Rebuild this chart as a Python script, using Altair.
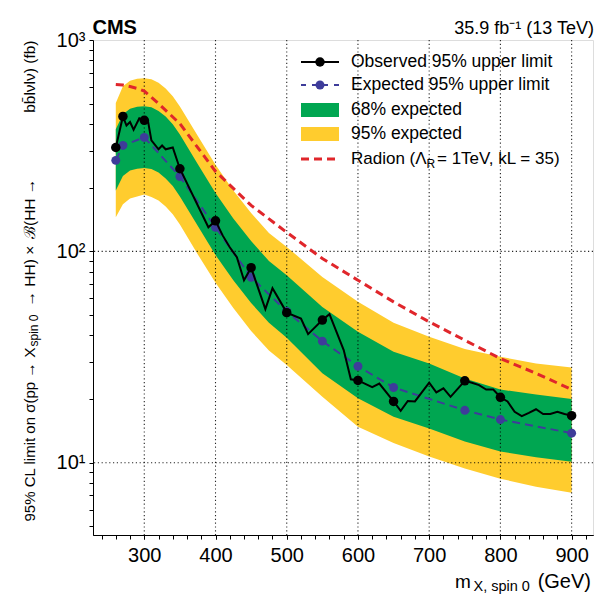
import altair as alt
import pandas as pd

# ---------------- data ----------------
obs_mass = [260, 270, 275, 280, 285, 293, 300, 305, 310, 320, 325, 330, 340, 350,
            390, 400, 410, 420, 430, 440, 450, 470, 480, 500, 520, 530, 550, 560,
            580, 590, 600, 620, 630, 650, 660, 670, 680, 700, 710, 720, 730, 750,
            760, 770, 780, 790, 800, 810, 820, 830, 840, 850, 860, 870, 880, 890, 900]
obs_val = [310, 435, 394, 409, 376, 426, 417, 417, 335, 304, 317, 304, 310, 246,
           130, 139.5, 119, 104.6, 93.8, 73.0, 83.7, 53.3, 66.9, 51.3, 48.1, 40.6, 47.3, 50.4,
           34.1, 24.8, 24.5, 22.8, 23.7, 19.5, 17.6, 19.6, 19.5, 23.9, 21.5, 22.5, 20.5, 24.4,
           23.9, 23.3, 22.2, 22.2, 20.4, 19.5, 17.4, 16.6, 17.2, 17.9, 17.0, 17.0, 17.4, 17.0, 16.7]

point_mass = [260, 270, 300, 350, 400, 450, 500, 550, 600, 650, 750, 800, 900]
exp_val = [269.5, 317, 346, 226, 130, 75.4, 52, 37.6, 28.6, 22.7, 17.7, 16.0, 13.8]

band_mass = [260, 270, 280, 290, 300, 310, 320, 330, 340, 350, 375, 400, 425, 450,
             475, 500, 550, 600, 650, 700, 750, 800, 850, 900]
g_hi = [378, 445, 473, 483, 486, 480, 462, 434, 399, 357, 259, 189, 143, 112,
        90, 77, 54.6, 41.6, 33.5, 29.5, 25.0, 22.2, 21.0, 20.0]
g_lo = [194, 227, 241, 246, 248, 245, 236, 221, 204, 182, 132, 96, 73, 57,
        46, 39, 26.5, 20.2, 16.5, 14.5, 12.6, 11.3, 10.6, 10.1]
y_hi = [503, 604, 642, 656, 659, 652, 627, 589, 542, 485, 352, 257, 194, 152,
        122, 105, 75.7, 57.7, 46.0, 39.4, 34.5, 31.7, 29.5, 28.2]
y_lo = [145, 167, 178, 182, 186, 181, 174, 163, 150, 134, 97, 71, 54, 42,
        34, 29, 20.5, 14.8, 12.4, 10.7, 9.4, 8.4, 7.7, 7.2]

rad_mass = [260, 270, 280, 290, 300, 320, 350, 400, 450, 500, 550, 600, 650, 700, 750, 800, 850, 900]
rad_val = [616, 612, 602, 590, 573, 500, 402, 239, 165, 123, 92.5, 73, 57.7, 46.4, 38.0, 31.1, 26.5, 22.2]

x_major = [300, 400, 500, 600, 700, 800, 900]
y_grid = [10, 100]
x_minor = list(range(240, 921, 20))
y_ticks = [5, 6, 7, 8, 9, 10, 20, 30, 40, 50, 60, 70, 80, 90, 100,
           200, 300, 400, 500, 600, 700, 800, 900, 1000]

# ---------------- styling ----------------
W, H = 500, 495
FONT = "Liberation Sans"
GREEN = "#00A651"
YELLOW = "#FFCC2E"
RED = "#E0262B"
BLUE = "#3E3C9A"

obs_df = pd.DataFrame({"m": obs_mass, "v": obs_val})
dot_df = obs_df[obs_df["m"].isin(point_mass)]
exp_df = pd.DataFrame({"m": point_mass, "v": exp_val})
band_df = pd.DataFrame({"m": band_mass, "ghi": g_hi, "glo": g_lo, "yhi": y_hi, "ylo": y_lo})
rad_df = pd.DataFrame({"m": rad_mass, "v": rad_val})

xscale = alt.Scale(domain=[228, 930], nice=False, zero=False)
yscale = alt.Scale(type="log", domain=[4.55, 1000], nice=False)

common = dict(grid=False, title=None, tickColor="black", domainColor="black", tickSize=4)
xaxis_major = alt.Axis(values=x_major, orient="bottom", labelFontSize=20, labelFont=FONT,
                       labelColor="black", labelPadding=6, labelFlush=False,
                       labelOverlap=False, **common)
xaxis_minor = alt.Axis(values=x_minor, orient="bottom", labels=False, **common)
yaxis = alt.Axis(values=y_ticks,
                 labelExpr="datum.value == 10 ? '10¹' : datum.value == 100 ? '10²' : datum.value == 1000 ? '10³' : ''",
                 labelFontSize=20, labelFont=FONT, labelColor="black", labelPadding=4,
                 labelFlush=False, labelOverlap=False, **common)

Xn = alt.X("m:Q", axis=None)

yellow = alt.Chart(band_df).mark_area(color=YELLOW, opacity=1).encode(
    x=alt.X("m:Q", scale=xscale, axis=xaxis_major),
    y=alt.Y("ylo:Q", scale=yscale, axis=yaxis), y2="yhi:Q")
green = alt.Chart(band_df).mark_area(color=GREEN, opacity=1).encode(
    x=Xn, y="glo:Q", y2="ghi:Q")

gx = alt.Chart(pd.DataFrame({"m": x_major})).mark_rule(
    color="black", strokeDash=[1.2, 2.6], strokeWidth=1.1, opacity=0.85).encode(
    x=alt.X("m:Q", axis=xaxis_minor))
gy = alt.Chart(pd.DataFrame({"v": y_grid})).mark_rule(
    color="black", strokeDash=[1.2, 2.6], strokeWidth=1.1, opacity=0.85).encode(y="v:Q")

rad = alt.Chart(rad_df).mark_line(color=RED, strokeWidth=3, strokeDash=[8, 5]).encode(
    x=Xn, y="v:Q")
exp_line = alt.Chart(exp_df).mark_line(color=BLUE, strokeWidth=2, strokeDash=[8, 5]).encode(
    x=Xn, y="v:Q")
exp_pts = alt.Chart(exp_df).mark_circle(color=BLUE, size=80, opacity=1).encode(
    x=Xn, y="v:Q")
obs_line = alt.Chart(obs_df).mark_line(color="black", strokeWidth=2).encode(
    x=Xn, y="v:Q")
obs_pts = alt.Chart(dot_df).mark_circle(color="black", size=90, opacity=1).encode(
    x=Xn, y="v:Q")

one = pd.DataFrame({"a": [0]})


def txt(s, x, y, size=17.5, align="left", baseline="middle", weight="normal", angle=0):
    kw = dict(text=s, align=align, baseline=baseline, fontSize=size, font=FONT,
              fontWeight=weight, color="black")
    if angle:
        kw["angle"] = angle
    return alt.Chart(one).mark_text(**kw).encode(x=alt.value(x), y=alt.value(y))


# legend (positions in plot-area pixels)
lx0, lx1, lxc, ltx = 208, 246, 227, 258
rows = [22, 45, 70, 94, 119]
legend = [
    alt.Chart(one).mark_rule(color="black", strokeWidth=2).encode(
        x=alt.value(lx0), x2=alt.value(lx1), y=alt.value(rows[0])),
    alt.Chart(one).mark_circle(color="black", size=90, opacity=1).encode(
        x=alt.value(lxc), y=alt.value(rows[0])),
    alt.Chart(one).mark_rule(color=BLUE, strokeWidth=2, strokeDash=[5, 6]).encode(
        x=alt.value(lx0), x2=alt.value(lx1), y=alt.value(rows[1])),
    alt.Chart(one).mark_circle(color=BLUE, size=80, opacity=1).encode(
        x=alt.value(lxc), y=alt.value(rows[1])),
    alt.Chart(one).mark_rect(color=GREEN).encode(
        x=alt.value(lx0), x2=alt.value(lx1), y=alt.value(rows[2] - 7), y2=alt.value(rows[2] + 7)),
    alt.Chart(one).mark_rect(color=YELLOW).encode(
        x=alt.value(lx0), x2=alt.value(lx1), y=alt.value(rows[3] - 7), y2=alt.value(rows[3] + 7)),
    alt.Chart(one).mark_rule(color=RED, strokeWidth=3, strokeDash=[8, 5]).encode(
        x=alt.value(lx0), x2=alt.value(lx1), y=alt.value(rows[4])),
    txt("Observed 95% upper limit", ltx, rows[0]),
    txt("Expected 95% upper limit", ltx, rows[1]),
    txt("68% expected", ltx, rows[2]),
    txt("95% expected", ltx, rows[3]),
    txt("Radion (Λ", ltx, rows[4], size=17),
    txt("R", 333.5, rows[4] + 5, size=12),
    txt("= 1TeV, kL = 35)", 344, rows[4], size=17),
]

titles = [
    txt("CMS", -0.5, -6, size=20, baseline="alphabetic", weight="bold"),
    txt("35.9 fb⁻¹ (13 TeV)", W + 1, -6, size=18, align="right", baseline="alphabetic"),
    # x-axis title
    txt("(GeV)", W - 2, 547.5, size=20, align="right", baseline="alphabetic"),
    txt("X, spin 0", 380.5, 550.5, size=14.5, baseline="alphabetic"),
    txt("m", 362, 547.5, size=19, baseline="alphabetic"),
    # y-axis title (rotated, reading bottom to top)
    txt("95% CL limit on σ(pp", -58.3, 481.5, size=15, baseline="alphabetic", angle=270),
    txt("→ X", -58.3, 307.5, size=15.5, align="right", baseline="alphabetic", angle=270),
    txt("spin 0", -55.5, 306.5, size=12, baseline="alphabetic", angle=270),
    txt("→ HH) ×", -58.3, 266.5, size=15.5, baseline="alphabetic", angle=270),
    txt("ℬ(HH →", -58.3, 199, size=15.5, baseline="alphabetic", angle=270),
    txt("bb̄lνlν) (fb)", -58.3, 0.5, size=15.5, align="right", baseline="alphabetic", angle=270),
]

chart = alt.layer(
    yellow, green, gx, gy, rad, exp_line, exp_pts, obs_line, obs_pts, *legend, *titles
).resolve_axis(
    x="independent"
).properties(
    width=W, height=H,
    autosize=alt.AutoSizeParams(type="none"),
    padding={"left": 85, "top": 32, "right": 2, "bottom": 60},
).configure_view(
    stroke="black", strokeWidth=1
).configure(background="white")

chart.save("out.html", embed_options={"renderer": "svg", "actions": False})
